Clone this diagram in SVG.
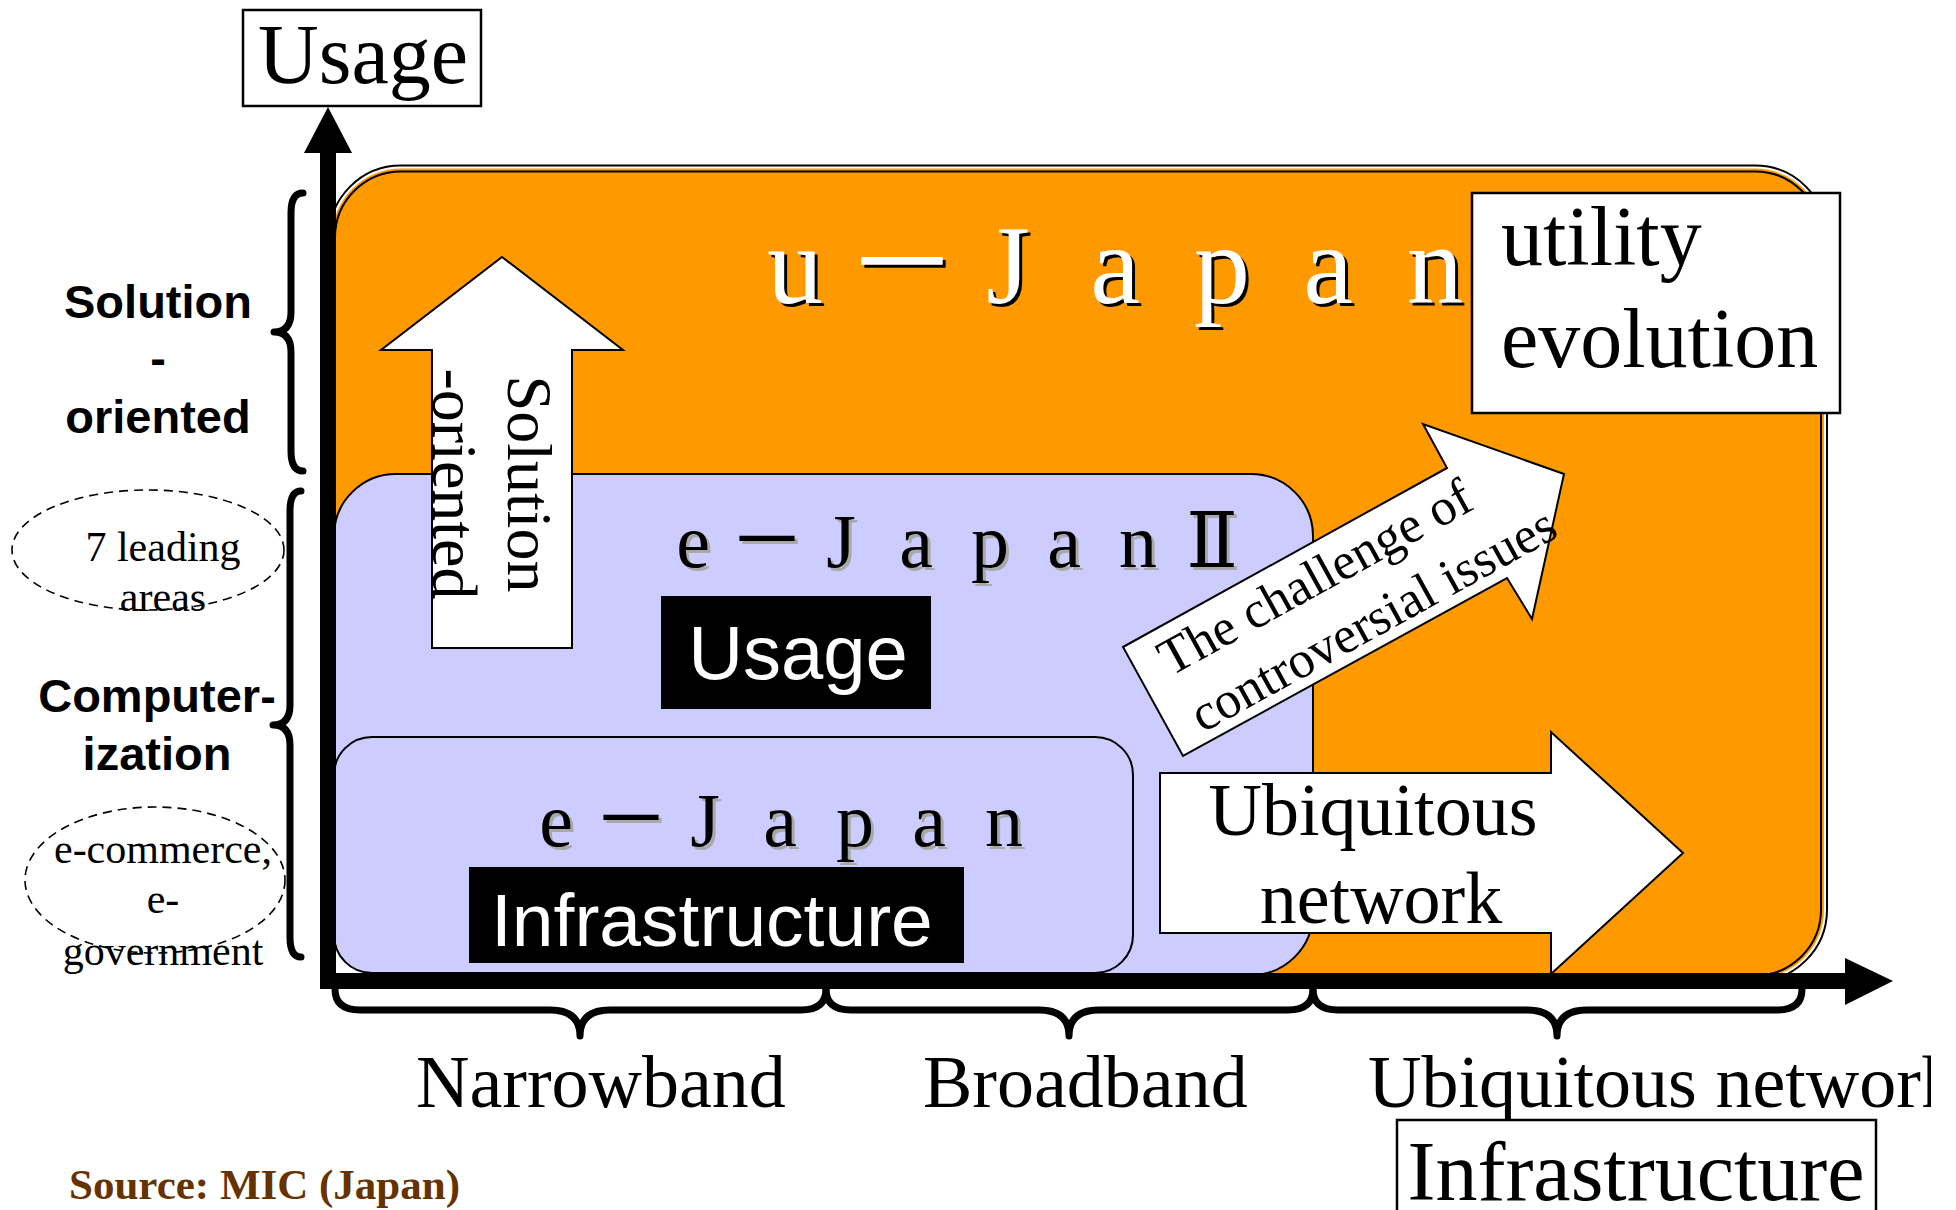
<svg xmlns="http://www.w3.org/2000/svg" width="1956" height="1210" viewBox="0 0 1956 1210">
<style>
.serif{font-family:"Liberation Serif","Times New Roman",serif;fill:#000}
.sans{font-family:"Liberation Sans",Arial,sans-serif}
.bold{font-family:"Liberation Sans",Arial,sans-serif;font-weight:bold;font-size:47px;fill:#000;text-anchor:middle}
.small{font-family:"Liberation Serif","Times New Roman",serif;font-size:42px;fill:#000;text-anchor:middle}
.jp{font-family:"Liberation Serif","DejaVu Serif","Noto Sans CJK JP",serif;text-anchor:middle}
.brace{fill:none;stroke:#000;stroke-width:7;stroke-linecap:round;stroke-linejoin:round}
.lav{fill:#CCCCFF;stroke:#000;stroke-width:2}
.wbox{fill:#fff;stroke:#000;stroke-width:2.5}
.warrow{fill:#fff;stroke:#000;stroke-width:2;stroke-linejoin:miter}
.dash{fill:none;stroke:#000;stroke-width:1.6;stroke-dasharray:9 6}
</style>
<defs>
<clipPath id="pageclip"><rect x="0" y="0" width="1931" height="1210"/></clipPath>
</defs>

<g id="u-japan">
<rect x="329" y="165.5" width="1498" height="816" rx="72" fill="#fff" stroke="#000" stroke-width="2"/>
<rect x="332" y="168.5" width="1492" height="810" rx="69" fill="#FF9900"/>
<rect x="335" y="171.5" width="1486" height="804" rx="66" fill="#FF9900" stroke="#000" stroke-width="2"/>
</g>

<g id="e-japan-2">
<rect class="lav" x="334" y="474" width="979" height="501" rx="62"/>
</g>

<g id="e-japan">
<rect class="lav" x="334" y="737" width="799" height="236" rx="38"/>
</g>

<g id="arrow-solution">
<polygon class="warrow" points="502,257 623,350 572,350 572,648 432,648 432,350 381,350"/>
<text class="serif" font-size="64" text-anchor="middle" transform="translate(508,484) rotate(90)">Solution</text>
<text class="serif" font-size="64" text-anchor="middle" transform="translate(433,484) rotate(90)">-oriented</text>
</g>

<g id="e-japan-2-label">
<text class="jp" font-size="76" fill="#a8a8a8" x="696 770 844 919 993 1067 1141 1215" y="570">e－JapanⅡ</text>
<text class="jp" font-size="76" fill="#000" x="693 767 841 916 990 1064 1138 1212" y="567">e－JapanⅡ</text>
</g>

<g id="usage-label">
<rect x="661" y="596" width="270" height="113" fill="#000"/>
<text class="sans" font-size="76" fill="#fff" text-anchor="middle" x="798" y="679">Usage</text>
</g>

<g id="e-japan-label">
<text class="jp" font-size="76" fill="#a8a8a8" x="559 634 708 783 858 932 1007" y="849">e－Japan</text>
<text class="jp" font-size="76" fill="#000" x="556 631 705 780 855 929 1004" y="846">e－Japan</text>
</g>

<g id="infrastructure-label">
<rect x="469" y="867" width="495" height="96" fill="#000"/>
<text class="sans" font-size="75" fill="#fff" x="491" y="946">Infrastructure</text>
</g>

<g id="arrow-challenge">
<polygon class="warrow" points="1123,647 1447,468 1423,424 1564,474 1532,619 1507,578 1183,756"/>
<g transform="translate(1123,647) rotate(-28.9)">
<text class="serif" font-size="52" x="27" y="49">The challenge of</text>
<text class="serif" font-size="52" x="28" y="114">controversial issues</text>
</g>
</g>

<g id="arrow-ubiquitous">
<polygon class="warrow" points="1160,773 1551,773 1551,732 1683,853 1551,974 1551,933 1160,933"/>
<text class="serif" font-size="74" text-anchor="middle" x="1373" y="835">Ubiquitous</text>
<text class="serif" font-size="74" text-anchor="middle" x="1381" y="923">network</text>
</g>

<g id="u-japan-label">
<text class="jp" font-size="112" fill="#000" x="798 905 1011 1118 1225 1331 1438" y="306">u－Japan</text>
<text class="jp" font-size="112" fill="#fff" x="795 902 1008 1115 1222 1328 1435" y="303">u－Japan</text>
</g>

<g id="utility-evolution">
<rect class="wbox" x="1472" y="193" width="368" height="220"/>
<text class="serif" font-size="84" x="1501" y="265">utility</text>
<text class="serif" font-size="84" x="1501" y="367">evolution</text>
</g>

<g id="connectors">
<rect x="320" y="150" width="16" height="839" fill="#000"/>
<polygon points="328,107 304,153 352,153" fill="#000"/>
<rect x="320" y="973" width="1528" height="16" fill="#000"/>
<polygon points="1893,981 1845,958 1845,1005" fill="#000"/>
<path class="brace" d="M303,193 Q291,193 291,213 L291,312 Q291,332 274,332 Q291,332 291,352 L291,451 Q291,471 303,471"/>
<path class="brace" d="M301,491 Q290,491 290,511 L290,705 Q290,725 273,725 Q290,725 290,745 L290,937 Q290,957 301,957"/>
<path class="brace" d="M335,989 Q335,1010 360,1010 L550,1010 Q580,1010 580,1036 Q580,1010 610,1010 L801,1010 Q826,1010 826,989"/>
<path class="brace" d="M826,989 Q826,1010 851,1010 L1039,1010 Q1069,1010 1069,1036 Q1069,1010 1099,1010 L1288,1010 Q1313,1010 1313,989"/>
<path class="brace" d="M1313,989 Q1313,1010 1338,1010 L1527,1010 Q1557,1010 1557,1036 Q1557,1010 1587,1010 L1777,1010 Q1802,1010 1802,989"/>
</g>

<g id="usage-axis-label">
<rect class="wbox" x="243" y="10" width="238" height="96"/>
<text class="serif" font-size="84" text-anchor="middle" x="363" y="83">Usage</text>
</g>

<g id="solution-oriented-label">
<text class="bold" x="158" y="318">Solution</text>
<text class="bold" x="158" y="374">-</text>
<text class="bold" x="158" y="433">oriented</text>
</g>

<g id="seven-leading-areas">
<ellipse class="dash" cx="148" cy="550" rx="136" ry="60"/>
<text class="small" x="163" y="561">7 leading</text>
<text class="small" x="163" y="611">areas</text>
</g>

<g id="computerization-label">
<text class="bold" x="157" y="712">Computer-</text>
<text class="bold" x="157" y="770">ization</text>
</g>

<g id="ecommerce">
<ellipse class="dash" cx="155" cy="880" rx="130" ry="73"/>
<text class="small" x="163" y="863">e-commerce,</text>
<text class="small" x="163" y="913">e-</text>
<text class="small" x="163" y="965">government</text>
</g>

<g id="x-labels">
<text class="serif" font-size="74" x="416" y="1107">Narrowband</text>
<text class="serif" font-size="74" x="923" y="1107">Broadband</text>
<text class="serif" font-size="74" x="1368" y="1107" clip-path="url(#pageclip)">Ubiquitous network</text>
</g>

<g id="infrastructure-axis-label">
<rect class="wbox" x="1397" y="1120" width="479" height="110"/>
<text class="serif" font-size="84" text-anchor="middle" x="1636" y="1200">Infrastructure</text>
</g>

<g id="source">
<text x="69" y="1199" font-family="Liberation Serif, Times New Roman, serif" font-weight="bold" font-size="43" fill="#663300">Source: MIC (Japan)</text>
</g>
</svg>
